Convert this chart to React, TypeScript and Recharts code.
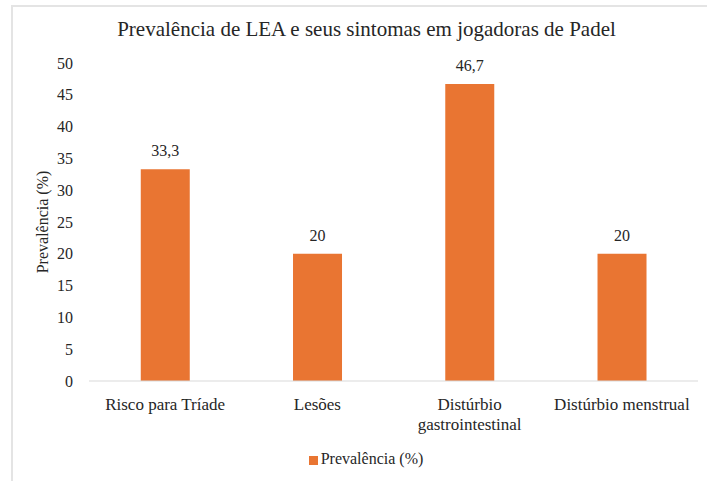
import { BarChart, Bar, XAxis, YAxis, LabelList, Legend } from "recharts";

const categories = [
  "Risco para Tríade",
  "Lesões",
  "Distúrbio gastrointestinal",
  "Distúrbio menstrual",
];
const prevalencia = [33.3, 20, 46.7, 20];
const yTicks = [0, 5, 10, 15, 20, 25, 30, 35, 40, 45, 50];

const data = categories.map((name, i) => ({ name, value: prevalencia[i] }));

const FONT = "Liberation Serif";
const ORANGE = "#E97532";
const INK = "#262626";

// long names go on two lines, like the original
function CategoryTick(props: any) {
  const { x, y, payload } = props;
  const text: string = payload.value;
  let lines = [text];
  if (text.length > 22) {
    const cut = text.lastIndexOf(" ");
    lines = [text.slice(0, cut), text.slice(cut + 1)];
  }
  return (
    <text x={x} y={y} textAnchor="middle" fill={INK} fontSize={17} fontFamily={FONT}>
      {lines.map((l, i) => (
        <tspan key={i} x={x} dy={i === 0 ? 21 : 20}>
          {l}
        </tspan>
      ))}
    </text>
  );
}

export default function App() {
  return (
    <div style={{ position: "absolute", left: 0, top: 0, width: 707, height: 481, fontFamily: FONT }}>
      <div
        style={{
          position: "absolute",
          left: 11,
          top: 5,
          width: 696,
          height: 476,
          borderLeft: "2px solid #e4e4e4",
          borderTop: "2px solid #e4e4e4",
        }}
      />
      <div
        style={{
          position: "absolute",
          left: 24,
          width: 685,
          top: 17,
          textAlign: "center",
          fontSize: 21,
          fontFamily: FONT,
          color: INK,
        }}
      >
        Prevalência de LEA e seus sintomas em jogadoras de Padel
      </div>
      <BarChart
        width={707}
        height={481}
        data={data}
        margin={{ top: 63, right: 9, bottom: 0, left: 0 }}
        barCategoryGap="34%"
        style={{ position: "absolute", left: 0, top: 0 }}
      >
        <XAxis
          dataKey="name"
          tickLine={false}
          axisLine={{ stroke: "#d9d9d9" }}
          tick={<CategoryTick />}
          interval={0}
          height={70}
        />
        <YAxis
          domain={[0, 50]}
          ticks={yTicks}
          width={89}
          tickLine={false}
          axisLine={false}
          tickMargin={10}
          tick={{ fill: INK, fontSize: 16, fontFamily: FONT }}
          label={{
            value: "Prevalência (%)",
            angle: -90,
            position: "insideLeft",
            offset: 42,
            style: { textAnchor: "middle", fill: INK, fontSize: 16, fontFamily: FONT },
          }}
        />
        <Legend
          verticalAlign="bottom"
          height={30}
          iconType="square"
          iconSize={9}
          wrapperStyle={{ fontSize: 16, fontFamily: FONT, lineHeight: "16px", left: 22 }}
          formatter={(v: string) => <span style={{ color: INK, marginLeft: -1 }}>{v}</span>}
        />
        <Bar dataKey="value" name="Prevalência (%)" fill={ORANGE} isAnimationActive={false}>
          <LabelList
            dataKey="value"
            position="top"
            offset={13}
            formatter={(v: any) => String(v).replace(".", ",")}
            style={{ fill: INK, fontSize: 16, fontFamily: FONT }}
          />
        </Bar>
      </BarChart>
    </div>
  );
}
